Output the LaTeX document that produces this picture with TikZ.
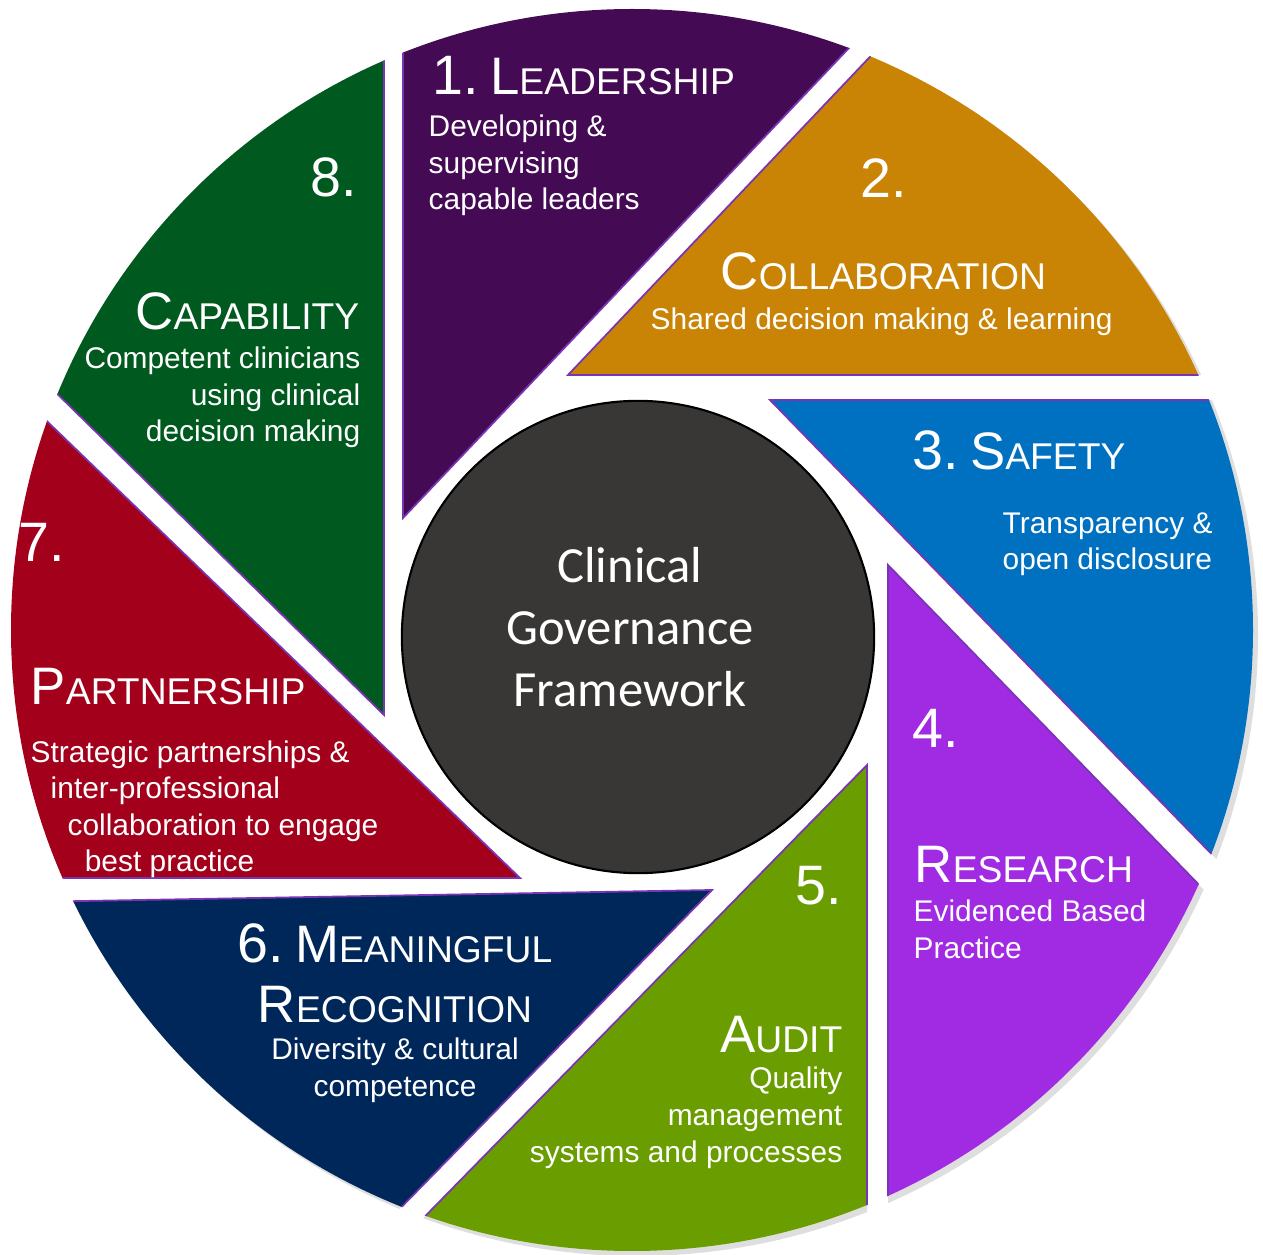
\documentclass[tikz,border=0pt]{standalone}
\usepackage{fontspec}
\setmainfont{Liberation Sans}
\newfontfamily\hubfont{Carlito}
\usetikzlibrary{calc,positioning}

\definecolor{leadcol}{HTML}{450A54}
\definecolor{collabcol}{HTML}{C98405}
\definecolor{safecol}{HTML}{0070C0}
\definecolor{researchcol}{HTML}{A02BE2}
\definecolor{auditcol}{HTML}{6A9E00}
\definecolor{meancol}{HTML}{00275A}
\definecolor{partcol}{HTML}{A3001C}
\definecolor{capcol}{HTML}{00591E}
\definecolor{hubcol}{HTML}{383736}
\definecolor{rimcol}{HTML}{7A35B5}

% small caps made by hand: big first letter, smaller rest
\newcommand{\scword}[2]{{\fontsize{15}{17}\selectfont #1}{\fontsize{10.6}{12}\selectfont #2}}
\newcommand{\segnum}[1]{{\fontsize{15.8}{18}\selectfont #1}}

\tikzset{
  blade/.style={fill=#1, draw=rimcol, line width=0.5pt},
  bladeshadow/.style={fill=black, opacity=0.13},
  segtext/.style={text=white, inner sep=0pt, font=\fontsize{8.5}{10.4}\selectfont},
}

\begin{document}
\begin{tikzpicture}[x=0.01cm, y=-0.01cm]
                    \useasboundingbox (0,0) rectangle (1263,1255);

                    % Apex points of the blades
                    \coordinate (leadtip) at (403,518);
                    \coordinate (collabtip) at (568,375);
                    \coordinate (safetip) at (770,400);
                    \coordinate (researchtip) at (888,565);
                    \coordinate (audittip) at (867,765);
                    \coordinate (meantip) at (712,890);
                    \coordinate (parttip) at (520,878);
                    \coordinate (captip) at (384,715);

                    % Drawing shadows of the blades
                    \begin{scope}[shift={(5,5)}]
                    \clip (632,630) circle (621);
                    \fill [bladeshadow] (leadtip) -- +(-90:1400) -- +(-46.5:1400) -- cycle;
                    \fill [bladeshadow] (collabtip) -- +(-46.5:1400) -- +(0:1400) -- cycle;
                    \fill [bladeshadow] (safetip) -- +(0:1400) -- +(45.8:1400) -- cycle;
                    \fill [bladeshadow] (researchtip) -- +(45.8:1400) -- +(90:1400) -- cycle;
                    \fill [bladeshadow] (audittip) -- +(90:1400) -- +(134.4:1400) -- cycle;
                    \fill [bladeshadow] (meantip) -- +(134.4:1400) -- +(179:1400) -- cycle;
                    \fill [bladeshadow] (parttip) -- +(180:1400) -- +(224:1400) -- cycle;
                    \fill [bladeshadow] (captip) -- +(224.5:1400) -- +(270:1400) -- cycle;
                    \end{scope}

                    % Drawing the blades
                    \begin{scope}
                    \clip (632,630) circle (621);
                    \filldraw [blade=leadcol] (leadtip) -- +(-90:1400) -- +(-46.5:1400) -- cycle;
                    \filldraw [blade=collabcol] (collabtip) -- +(-46.5:1400) -- +(0:1400) -- cycle;
                    \filldraw [blade=safecol] (safetip) -- +(0:1400) -- +(45.8:1400) -- cycle;
                    \filldraw [blade=researchcol] (researchtip) -- +(45.8:1400) -- +(90:1400) -- cycle;
                    \filldraw [blade=auditcol] (audittip) -- +(90:1400) -- +(134.4:1400) -- cycle;
                    \filldraw [blade=meancol] (meantip) -- +(134.4:1400) -- +(179:1400) -- cycle;
                    \filldraw [blade=partcol] (parttip) -- +(180:1400) -- +(224:1400) -- cycle;
                    \filldraw [blade=capcol] (captip) -- +(224.5:1400) -- +(270:1400) -- cycle;
                    \end{scope}

                    % Drawing the hub
                    \node (hub) [circle, fill=hubcol, draw=black, line width=0.6pt, minimum size=4.72cm, inner sep=0pt] at (638,637) {};
                    \node (hubtitle) [text=white, align=center, anchor=base, font=\hubfont\fontsize{14.4}{17.6}\selectfont] at (630,706) {Clinical\\Governance\\Framework};

                    % Marking 1. Leadership
                    \node (leadtitle) [segtext, anchor=base west] at (432,95) {\segnum{1.} \scword{L}{EADERSHIP}};
                    \node (leadtext) [segtext, anchor=base west, align=left] at (428,210) {Developing \&\\supervising\\capable leaders};

                    % Marking 2. Collaboration
                    \node (collabnum) [segtext, anchor=base west] at (860,198) {\segnum{2.}};
                    \node (collabtitle) [segtext, anchor=base west] at (720,290) {\scword{C}{OLLABORATION}};
                    \node (collabtext) [segtext, anchor=base west] at (650,330) {Shared decision making \& learning};

                    % Marking 3. Safety
                    \node (safetitle) [segtext, anchor=base west] at (912,470) {\segnum{3.} \scword{S}{AFETY}};
                    \node (safetext) [segtext, anchor=base west, align=left] at (1002,570) {Transparency \&\\open disclosure};

                    % Marking 4. Research
                    \node (researchnum) [segtext, anchor=base west] at (912,748) {\segnum{4.}};
                    \node (researchtitle) [segtext, anchor=base west] at (914,883) {\scword{R}{ESEARCH}};
                    \node (researchtext) [segtext, anchor=base west, align=left] at (913,958) {Evidenced Based\\Practice};

                    % Marking 5. Audit
                    \node (auditnum) [segtext, anchor=base east] at (843,905) {\segnum{5.}};
                    \node (audittitle) [segtext, anchor=base east] at (843,1052) {\scword{A}{UDIT}};
                    \node (audittext) [segtext, anchor=base east, align=right] at (843,1162) {Quality\\management\\systems and processes};

                    % Marking 6. Meaningful recognition
                    \node (meantitle) [segtext, anchor=base] at (395,962) {\segnum{6.} \scword{M}{EANINGFUL}};
                    \node (meantitleb) [segtext, anchor=base] at (395,1022) {\scword{R}{ECOGNITION}};
                    \node (meantext) [segtext, anchor=base, align=center] at (395,1096) {Diversity \& cultural\\competence};

                    % Marking 7. Partnership
                    \node (partnum) [segtext, anchor=base west] at (18,562) {\segnum{7.}};
                    \node (parttitle) [segtext, anchor=base west] at (30,705) {\scword{P}{ARTNERSHIP}};
                    \node (parttext) [segtext, anchor=base west, align=left] at (30,872) {Strategic partnerships \&\\\hspace*{5.7pt}inter-professional\\\hspace*{10.5pt}collaboration to engage\\\hspace*{15.4pt}best practice};

                    % Marking 8. Capability
                    \node (capnum) [segtext, anchor=base east] at (358,197) {\segnum{8.}};
                    \node (captitle) [segtext, anchor=base east] at (360,330) {\scword{C}{APABILITY}};
                    \node (captext) [segtext, anchor=base east, align=right] at (361,442) {Competent clinicians\\using clinical\\decision making};
\end{tikzpicture}
\end{document}
